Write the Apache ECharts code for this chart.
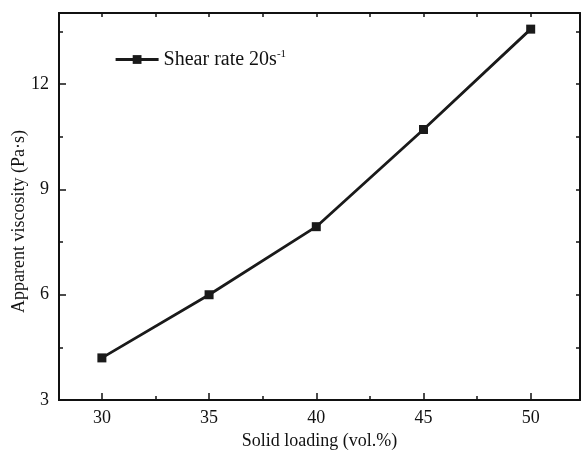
<!DOCTYPE html>
<html><head><meta charset="utf-8">
<script src="https://cdn.jsdelivr.net/npm/echarts@6/dist/echarts.min.js"></script>
<style>html,body{margin:0;padding:0;background:#fff}#c{width:584px;height:451px}</style>
</head><body><div id="c"></div>
<script>
const solidLoading = [30, 35, 40, 45, 50];
const viscosity = [4.2, 6.0, 7.94, 10.71, 13.57];
const xMajorTicks = [30, 35, 40, 45, 50];
const xMinorTicks = [32.5, 37.5, 42.5, 47.5];
const yMajorTicks = [3, 6, 9, 12];
const yMinorTicks = [4.5, 7.5, 10.5, 13.5];
const seriesName = 'Shear rate 20s';

const font = 'Liberation Serif';
const axisLine = {show: true, lineStyle: {color: '#111', width: 2}};
function xAx(pos, ticks, len, labels, name) {
  return {type: 'value', position: pos, min: 28, max: 52.3,
    axisLine: axisLine, splitLine: {show: false},
    axisTick: {show: true, inside: true, length: len, customValues: ticks, lineStyle: {color: '#111', width: 1.5}},
    axisLabel: labels ? {show: true, customValues: ticks, color: '#111', fontFamily: font, fontSize: 18, margin: 9} : {show: false},
    name: name || '', nameLocation: 'middle', nameGap: 32,
    nameTextStyle: {color: '#111', fontFamily: font, fontSize: 18}};
}
function yAx(pos, ticks, len, labels, name) {
  return {type: 'value', position: pos, min: 3, max: 14.03,
    axisLine: axisLine, splitLine: {show: false},
    axisTick: {show: true, inside: true, length: len, customValues: ticks, lineStyle: {color: '#111', width: 1.5}},
    axisLabel: labels ? {show: true, customValues: ticks, color: '#111', fontFamily: font, fontSize: 18, margin: 10} : {show: false},
    name: name || '', nameLocation: 'middle', nameGap: 31, nameMoveOverlap: false,
    nameTextStyle: {color: '#111', fontFamily: font, fontSize: 18, padding: [0, 30, 0, 0]}};
}
const chart = echarts.init(document.getElementById('c'));
chart.setOption({
  animation: false,
  grid: {left: 59, top: 13, right: 4, bottom: 51, containLabel: false, outerBoundsMode: 'none'},
  xAxis: [
    xAx('bottom', xMajorTicks, 7, true, 'Solid loading (vol.%)'),
    xAx('bottom', xMinorTicks, 4, false),
    xAx('top', xMajorTicks.concat(xMinorTicks), 4, false)
  ],
  yAxis: [
    yAx('left', yMajorTicks, 7, true, 'Apparent viscosity (Pa·s)'),
    yAx('left', yMinorTicks, 4, false),
    yAx('right', yMajorTicks.concat(yMinorTicks), 4, false)
  ],
  legend: {left: 114, top: 49, padding: 0, itemWidth: 43, itemHeight: 11, itemGap: 6,
    lineStyle: {width: 3.2, color: '#1a1a1a'},
    data: [{name: seriesName}],
    formatter: function(n){ return n + '{sup|-1}'; },
    textStyle: {color: '#111', fontFamily: font, fontSize: 20,
      rich: {sup: {fontFamily: font, fontSize: 11, verticalAlign: 'top', padding: [0,0,10,0], color: '#111'}}}},
  series: [{
    name: seriesName, type: 'line',
    data: solidLoading.map((x, i) => [x, viscosity[i]]),
    symbol: 'rect', symbolSize: 9,
    lineStyle: {color: '#1a1a1a', width: 2.8},
    itemStyle: {color: '#1a1a1a'}
  }]
});
</script></body></html>
